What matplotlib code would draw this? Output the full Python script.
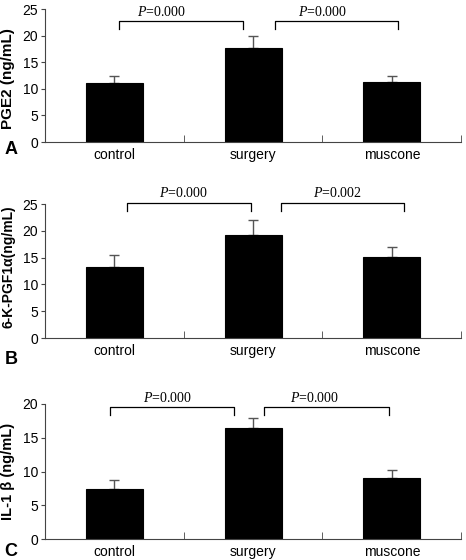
import numpy as np
import matplotlib
matplotlib.use("Agg")
import matplotlib.pyplot as plt

plt.rcParams['font.family'] = ['Liberation Sans', 'DejaVu Sans']
plt.rcParams['mathtext.fontset'] = 'custom'
plt.rcParams['mathtext.it'] = 'Liberation Serif:italic'
plt.rcParams['mathtext.rm'] = 'Liberation Serif'

#Data
groups = ["control", "surgery", "muscone"]

pge2_mean = [11.1, 17.7, 11.3]
pge2_err = [1.4, 2.3, 1.2]

pgf_mean = [13.2, 19.3, 15.2]
pgf_err = [2.3, 2.7, 1.8]

il1_mean = [7.5, 16.4, 9.1]
il1_err = [1.3, 1.5, 1.1]

p_a = ["0.000", "0.000"]
p_b = ["0.000", "0.002"]
p_c = ["0.000", "0.000"]

panels = [
    # mean, err, ylabel, label size, ymax, p-values, bracket top, bracket foot, text y, letter, axes rect, ylabel y
    (pge2_mean, pge2_err, "PGE2 (ng/mL)", 11, 25, p_a, 22.7, 21.3, 23.2, "A",
     [0.0966, 0.7464, 0.893, 0.2375], 0.48),
    (pgf_mean, pgf_err, "6-K-PGF1\u03b1(ng/mL)", 10, 25, p_b, 25.2, 23.7, 25.7, "B",
     [0.0966, 0.3964, 0.893, 0.2393], 0.53),
    (il1_mean, il1_err, "IL-1 \u03b2 (ng/mL)", 10.5, 20, p_c, 19.5, 18.4, 19.9, "C",
     [0.0966, 0.0369, 0.893, 0.2417], 0.5),
]
# bracket x-extents and text centers (data units) per panel
bracket_x = [
    [(0.035, 0.93), (1.156, 2.045)],
    [(0.093, 0.982), (1.199, 2.09)],
    [(-0.03, 0.86), (1.076, 1.98)],
]
ptext_x = [[0.34, 1.50], [0.50, 1.61], [0.38, 1.44]]
letter_y = [150, 360, 551]

fig = plt.figure(figsize=(4.66, 5.6), dpi=100)
x = np.arange(len(groups))

for i, (mean, err, ylab, lsize, ymax, pvals, btop, bfoot, ty, letter, rect, ly) in enumerate(panels):
    ax = fig.add_axes(rect)
    ax.bar(x, mean, width=0.41, color="black", edgecolor="black", linewidth=0.8, zorder=2)
    ax.errorbar(x, mean, yerr=[np.zeros(3), err], fmt="none", ecolor="#555555",
                elinewidth=1, capsize=3.5, capthick=1, zorder=1)
    ax.set_xlim(-0.5, 2.5)
    ax.set_ylim(0, ymax)
    ax.set_yticks(np.arange(0, ymax + 1, 5))
    ax.set_xticks(x)
    ax.set_xticklabels(groups, fontsize=10)
    ax.set_xticks([-0.5, 0.5, 1.5, 2.5], minor=True)
    ax.tick_params(axis="x", which="major", length=0, pad=4)
    ax.tick_params(axis="x", which="minor", direction="in", length=5, color="#444444")
    ax.tick_params(axis="y", direction="out", length=3, labelsize=10, color="#444444", pad=2)
    for s in ["top", "right"]:
        ax.spines[s].set_visible(False)
    for s in ["left", "bottom"]:
        ax.spines[s].set_color("#444444")
        ax.spines[s].set_linewidth(0.8)
    ax.set_ylabel(ylab, fontsize=lsize, fontweight="bold")
    ax.yaxis.set_label_coords(-0.071, ly)

    # significance brackets
    for j, (x0, x1) in enumerate(bracket_x[i]):
        ax.plot([x0, x0, x1, x1], [bfoot, btop, btop, bfoot], color="black",
                lw=0.9, clip_on=False)
        ax.text(ptext_x[i][j], ty, "$P$=" + pvals[j], ha="center", va="bottom",
                fontsize=10, family="Liberation Serif", clip_on=False)

    fig.text(11 / 466, 1 - letter_y[i] / 560, letter, ha="center", va="center",
             fontsize=13, fontweight="bold")

fig.savefig("out.png", dpi=100)
